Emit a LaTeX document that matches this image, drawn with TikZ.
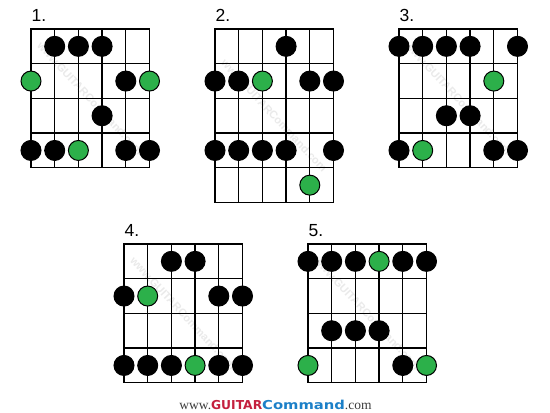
\documentclass[tikz,border=0pt]{standalone}
\usepackage{fontspec}
\setmainfont{Liberation Sans}
\newfontfamily\serifw{Liberation Serif}
\newfontfamily\dvs{DejaVu Sans}
\definecolor{fretgreen}{RGB}{44,176,74}
\definecolor{gcred}{RGB}{196,32,62}
\definecolor{gcblue}{RGB}{28,128,200}
\definecolor{gcgray}{RGB}{60,60,60}
\definecolor{wmgray}{RGB}{234,234,234}
\tikzset{
  gridline/.style={line width=1.25pt, line cap=rect},
  fdot/.style={circle, draw=black, line width=1pt, minimum size=20pt, inner sep=0pt},
  boardlbl/.style={font=\fontsize{17.5}{17.5}\selectfont, anchor=base west, inner sep=0pt},
  watermark/.style={font=\fontsize{11}{11}\selectfont\bfseries, text=wmgray, rotate=-47, inner sep=0pt},
}
% #1 name, #2 x0, #3 y0, #4 number of frets, #5 label, #6 dots string/fret/colour
\newcommand{\fboard}[6]{%
  \node[watermark] (#1-wm) at ({#2+2.5*23.7},{#3+#4*34.7/2}) {www.GUITARCommand.com};
  \foreach \s in {0,...,5}
    \draw[gridline] ({#2+\s*23.7},#3) -- ({#2+\s*23.7},{#3+#4*34.7});
  \foreach \f in {0,...,#4}
    \draw[gridline] (#2,{#3+\f*34.7}) -- ({#2+5*23.7},{#3+\f*34.7});
  \node[boardlbl] (#1-lbl) at ({#2+0.5},{#3-7.5}) {#5};
  \foreach \s/\f/\c in {#6}
    \node[fdot, fill=\c] (#1-\s-\f) at ({#2+(\s-1)*23.7},{#3+(\f-0.5)*34.7}) {};
}
\begin{document}
\begin{tikzpicture}[x=1pt,y=-1pt]
\useasboundingbox (0,0) rectangle (550,413);
\fill[white] (0,0) rectangle (550,413);
\fboard{b1}{31}{29}{4}{1.}{2/1/black,3/1/black,4/1/black,1/2/fretgreen,5/2/black,6/2/fretgreen,4/3/black,1/4/black,2/4/black,3/4/fretgreen,5/4/black,6/4/black}
\fboard{b2}{215}{29}{5}{2.}{4/1/black,1/2/black,2/2/black,3/2/fretgreen,5/2/black,6/2/black,1/4/black,2/4/black,3/4/black,4/4/black,6/4/black,5/5/fretgreen}
\fboard{b3}{399}{29}{4}{3.}{1/1/black,2/1/black,3/1/black,4/1/black,6/1/black,5/2/fretgreen,3/3/black,4/3/black,1/4/black,2/4/fretgreen,5/4/black,6/4/black}
\fboard{b4}{124}{244}{4}{4.}{3/1/black,4/1/black,1/2/black,2/2/fretgreen,5/2/black,6/2/black,1/4/black,2/4/black,3/4/black,4/4/fretgreen,5/4/black,6/4/black}
\fboard{b5}{308}{244}{4}{5.}{1/1/black,2/1/black,3/1/black,4/1/fretgreen,5/1/black,6/1/black,2/3/black,3/3/black,4/3/black,1/4/fretgreen,5/4/black,6/4/fretgreen}
\node[anchor=base, inner sep=0pt] (credit) at (275.5,409)
  {{\serifw\fontsize{13.5}{13.5}\selectfont\color{gcgray}www.}{\dvs\bfseries\fontsize{12.3}{12.3}\selectfont\color{gcred}GUITAR}{\dvs\bfseries\fontsize{12.3}{12.3}\selectfont\color{gcblue}\scalebox{1.2}[1]{Command}}{\serifw\fontsize{13.5}{13.5}\selectfont\color{gcgray}.com}};
\end{tikzpicture}
\end{document}
